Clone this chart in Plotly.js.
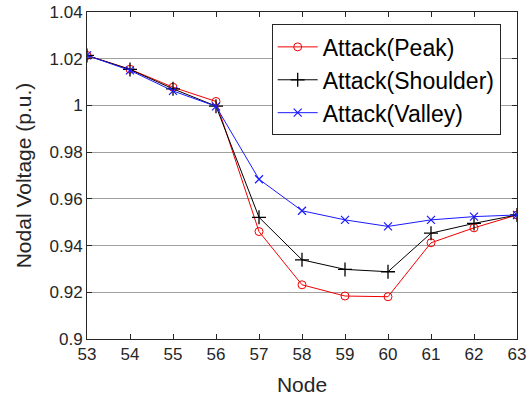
<!DOCTYPE html>
<html>
<head>
<meta charset="utf-8">
<script src="https://cdn.plot.ly/plotly-3.0.1.min.js"></script>
<style>
  html, body { margin: 0; padding: 0; background: #fff; }
  #chart { width: 532px; height: 404px; }
</style>
</head>
<body>
<div id="chart"></div>
<script>
// Node numbers along the feeder
const nodes = [53, 54, 55, 56, 57, 58, 59, 60, 61, 62, 63];

// Nodal voltage (p.u.) under attack, per load period
const peakVoltage     = [1.0214, 1.0155, 1.0078, 1.0017, 0.9460, 0.9232, 0.9184, 0.9181, 0.9412, 0.9476, 0.9531];
const shoulderVoltage = [1.0214, 1.0154, 1.0071, 0.9997, 0.9521, 0.9339, 0.9298, 0.9288, 0.9453, 0.9495, 0.9531];
const valleyVoltage   = [1.0214, 1.0150, 1.0062, 0.9996, 0.9684, 0.9549, 0.9510, 0.9482, 0.9510, 0.9524, 0.9531];

const seriesNames = ['Attack(Peak)', 'Attack(Shoulder)', 'Attack(Valley)'];

// y-axis tick values and their labels
const yTicks = [0.9, 0.92, 0.94, 0.96, 0.98, 1.0, 1.02, 1.04];
const yTickText = ['0.9', '0.92', '0.94', '0.96', '0.98', '1', '1.02', '1.04'];

const FONT = 'Liberation Sans, Arial, sans-serif';

const traces = [
  {
    x: nodes, y: peakVoltage, name: seriesNames[0],
    mode: 'lines+markers',
    line: { color: '#f00000', width: 1 },
    marker: { symbol: 'circle-open', size: 8, color: '#f00000', line: { color: '#f00000', width: 1 } }
  },
  {
    x: nodes, y: shoulderVoltage, name: seriesNames[1],
    mode: 'lines+markers',
    line: { color: '#000000', width: 1 },
    marker: { symbol: 'cross-thin-open', size: 10, color: '#000000', line: { color: '#000000', width: 1.3 } }
  },
  {
    x: nodes, y: valleyVoltage, name: seriesNames[2],
    mode: 'lines+markers',
    line: { color: '#1a1aff', width: 1 },
    marker: { symbol: 'x-thin-open', size: 8, color: '#1a1aff', line: { color: '#1a1aff', width: 1.2 } }
  }
];

const layout = {
  width: 532, height: 404,
  margin: { l: 87, r: 15, t: 12, b: 65 },
  paper_bgcolor: '#ffffff',
  plot_bgcolor: '#ffffff',
  font: { family: FONT, color: '#262626' },
  showlegend: true,
  legend: {
    x: 0.4295, y: 0.962, xanchor: 'left', yanchor: 'top',
    bgcolor: '#ffffff', bordercolor: '#262626', borderwidth: 1,
    font: { family: FONT, size: 23, color: '#000000' },
    itemwidth: 40, tracegroupgap: 0
  },
  xaxis: {
    range: [53, 63],
    tickvals: nodes,
    ticktext: nodes.map(String),
    ticks: 'inside', ticklen: 5, tickcolor: '#262626',
    showline: true, linecolor: '#262626', linewidth: 1, mirror: 'ticks',
    showgrid: false, zeroline: false,
    tickfont: { family: FONT, size: 17, color: '#262626' },
    title: { text: 'Node', font: { family: FONT, size: 21, color: '#262626' }, standoff: 13 }
  },
  yaxis: {
    range: [0.9, 1.04],
    tickvals: yTicks,
    ticktext: yTickText,
    ticks: 'inside', ticklen: 5, tickcolor: '#262626',
    showline: true, linecolor: '#262626', linewidth: 1, mirror: 'ticks',
    showgrid: true, gridcolor: '#a0a0a0', gridwidth: 1,
    zeroline: false,
    tickfont: { family: FONT, size: 17, color: '#262626' },
    title: { text: 'Nodal Voltage (p.u.)', font: { family: FONT, size: 21, color: '#262626' }, standoff: 12 }
  }
};

Plotly.newPlot('chart', traces, layout, { displayModeBar: false, staticPlot: true });
</script>
</body>
</html>
